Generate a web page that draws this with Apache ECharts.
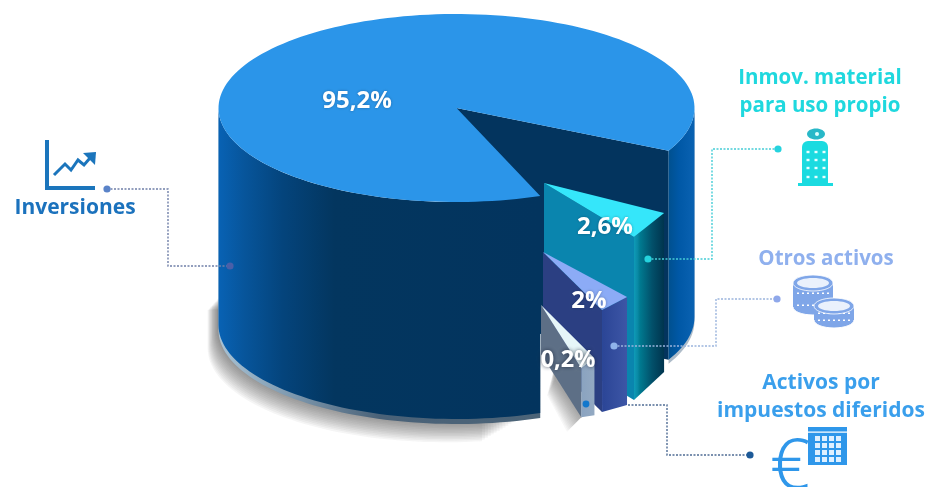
<!DOCTYPE html>
<html><head><meta charset="utf-8">
<style>html,body{margin:0;padding:0;background:#fff}#c{width:928px;height:487px}</style>
<script src="https://cdn.jsdelivr.net/npm/echarts@6/dist/echarts.min.js"></script>
</head><body><div id="c"></div>
<script>
// ---- data ----
var categories = ['Inversiones', 'Inmov. material para uso propio', 'Otros activos', 'Activos por impuestos diferidos'];
var values = [95.2, 2.6, 2, 0.2];
var valueLabels = ['95,2%', '2,6%', '2%', '0,2%'];
// the source infographic does not draw its slices to scale: parametric angles as drawn
var drawnStart = [69.4, 32.3, 53.6, 68.4];
var drawnSweep = [317.6, 24.3, 14.5, 7.5];

// ---- layout ----
var E = {a: 238, b: 94};
var cx = 456.5, cy = 108, H = 217;
var apex = [[cx, cy], [544, 183], [543, 252], [541, 305]];
var radii = [[1, 1], [0.597, 0.687], [0.595, 0.665], [0.61, 0.695]]; // radius at the right-hand / front corner of the wedge
var heights = [[H, H], [159, 163], [108, 102], [57, 49]];
var labelPos = [[357, 101], [605, 227], [589, 301], [568, 360]];
var topColor = ['#2b95e9', '#35e6fa', '#8cabf6', '#e6f6f8'];
var faceColor = ['#03345e', '#0a85ae', '#2b3f82', '#5d6f86'];
function hg(stops) {
  return {type: 'linear', x: 0, y: 0, x2: 1, y2: 0, colorStops: stops.map(function (s) { return {offset: s[0], color: s[1]}; })};
}
var wallColor = [
  hg([[0, '#0862b4'], [0.08, '#07559b'], [0.2, '#04447c'], [0.36, '#03365f'], [1, '#03345e']]),
  hg([[0, '#0e9bb8'], [0.12, '#0a8aa5'], [0.2, '#007a90'], [0.6, '#02506a'], [1, '#00344e']]),
  hg([[0, '#2b4596'], [1, '#3d56a6']]),
  hg([[0, '#8aa3c0'], [1, '#93a9c2']])
];

function pt(c, r, deg, dy) {
  var t = deg * Math.PI / 180;
  return [c[0] + E.a * r * Math.cos(t), c[1] + E.b * r * Math.sin(t) + (dy || 0)];
}
function arc(c, r, d0, d1, dy) {
  var out = [], n = Math.max(2, Math.ceil(Math.abs(d1 - d0) / 2));
  for (var i = 0; i <= n; i++) out.push(pt(c, r, d0 + (d1 - d0) * i / n, dy));
  return out;
}
function poly(points, fill, extra) {
  var style = {fill: fill};
  if (extra) for (var k in extra) style[k] = extra[k];
  return {type: 'polygon', shape: {points: points}, style: style};
}
function wallBand(c, r, d0, d1, h, fill, shift) {
  var top = arc(c, r, d0, d1, shift || 0);
  var bottom = arc(c, r, d1, d0, h + (shift || 0));
  return poly(top.concat(bottom), fill);
}

function renderSlice(params) {
  var i = params.dataIndex, c = apex[i], kids = [];
  var d0 = drawnStart[i], d1 = d0 + drawnSweep[i], k;
  if (i === 0) {
    var end = d1 - 360, rightH = H - 8;
    // soft floor shadow below the front wall: layered translucent outlines
    for (k = 15; k >= 0; k--) {
      var sc = [c[0] - k * 0.72, c[1] + k * 1.55];
      var tail = [[sc[0] - E.a, c[1] + 190 + k * 0.8], [sc[0] + 40, c[1] + 190]];
      kids.push(poly(arc(sc, 1, 73 + k * 0.55, 180, H).concat(tail), 'rgba(50,50,50,0.05)'));
    }
    // rim under the wall
    kids.push(wallBand(c, 1, d0, 180, H, hg([[0, '#a8c2d4'], [0.22, '#7f9ab0'], [0.5, '#4a6278'], [1, '#4c6478']]), 5));
    kids.push(wallBand(c, 1, 0, end, rightH, '#aebcc9', 4));
    // cut face inside the gap
    var ce = pt(c, 1, end);
    kids.push(poly([c, ce, [ce[0], ce[1] + rightH], [c[0], c[1] + rightH]], faceColor[0]));
    kids.push(wallBand(c, 1, d0, 180, H, wallColor[0]));
    kids.push(wallBand(c, 1, 0, end, rightH, hg([[0, '#00508f'], [0.4, '#0058a6'], [1, '#0a62b2']])));
    kids.push(poly([c].concat(arc(c, 1, d0, d1)), topColor[0]));
  } else {
    var rE = radii[i][0], rS = radii[i][1], hE = heights[i][0], hS = heights[i][1];
    var pE = pt(c, rE, d0), pS = pt(c, rS, d1);
    // pE = right-hand corner (lower angle), pS = front corner
    if (i === 3) {
      // soft shadow thrown into the notch left of the smallest wedge
      for (k = 13; k >= 0; k--) {
        kids.push(poly([
          [Math.max(541, c[0] + 14 - k * 0.6), c[1] + 76 + k * 1.1],
          [Math.max(541, pS[0] - k * 1.1), pS[1] + hS + k * 1.1],
          [pS[0], pS[1] + hS], [pS[0], pS[1]], [c[0] + 14, c[1] + 60]
        ], 'rgba(60,60,60,0.045)'));
      }
    }
    kids.push(poly([c, pS, [pS[0], pS[1] + hS], [c[0], c[1] + hS]], faceColor[i]));
    kids.push(poly([pS, pE, [pE[0], pE[1] + hE], [pS[0], pS[1] + hS]], wallColor[i]));
    kids.push(poly([c, pE, pS], topColor[i]));
  }
  kids.push({
    type: 'text', z2: 50,
    style: {
      text: valueLabels[i], x: labelPos[i][0], y: labelPos[i][1], align: 'center', verticalAlign: 'middle',
      fill: '#fff', font: 'bold ' + (i === 3 ? 23.5 : 24) + 'px "Open Sans"',
      textShadowColor: i === 3 ? 'rgba(20,30,50,0.75)' : 'rgba(0,20,50,0.35)', textShadowBlur: i === 3 ? 4 : 3
    }
  });
  return {type: 'group', children: kids};
}

// ---- callouts ----
var DOT = 3.6;
var leaders = [
  {dash: '#6f7fa8', pts: [[107, 189], [168, 189], [168, 266], [230, 266]], d: ['#4a5fa8', '#5a83c8']},
  {dash: '#45cdd6', pts: [[648, 259], [712, 259], [712, 149], [778, 149]], d: ['#25d3de', '#25d3de']},
  {dash: '#9ab4dd', pts: [[614, 346], [716, 346], [716, 299], [777, 299]], d: ['#8fa8ea', '#8fb3ea']},
  {dash: '#4f6c94', pts: [[628, 405], [667, 405], [667, 455], [750, 455]], d: null}
];
var g = [];
leaders.forEach(function (l) {
  g.push({type: 'polyline', z: 20, shape: {points: l.pts}, style: {stroke: l.dash, lineWidth: 1.4, lineDash: [2, 1.5], fill: null}});
  if (l.d) {
    g.push({type: 'circle', z: 21, shape: {cx: l.pts[0][0], cy: l.pts[0][1], r: DOT}, style: {fill: l.d[1]}});
    g.push({type: 'circle', z: 21, shape: {cx: l.pts[3][0], cy: l.pts[3][1], r: DOT}, style: {fill: l.d[0]}});
  }
});
g.push({type: 'circle', z: 21, shape: {cx: 586, cy: 404, r: 3.4}, style: {fill: '#1277cc'}});
g.push({type: 'circle', z: 21, shape: {cx: 750, cy: 455, r: 3.6}, style: {fill: '#1d5a98'}});

function label(lines, x, y, size, color, lh) {
  lines.forEach(function (t, k) {
    g.push({type: 'text', z: 22, style: {text: t, x: x, y: y + k * lh, align: 'center', verticalAlign: 'middle',
      fill: color, font: 'bold ' + size + 'px "Open Sans"'}});
  });
}
label(['Inversiones'], 75, 208, 21, '#1b72bd', 0);
label(['Inmov. material', 'para uso propio'], 820, 78, 20.5, '#1fd8de', 28);
label(['Otros activos'], 826, 259, 20.5, '#8fb0ee', 0);
label(['Activos por', 'impuestos diferidos'], 821, 383, 21, '#3a9fec', 28);

// icon: rising chart
var ink = '#1b75bc';
g.push({type: 'polyline', z: 22, shape: {points: [[47, 140], [47, 188], [95, 188]]}, style: {stroke: ink, lineWidth: 4, fill: null}});
g.push({type: 'polyline', z: 22, shape: {points: [[54, 175], [65, 164], [71, 170], [78, 160], [84, 165], [90, 158]]}, style: {stroke: ink, lineWidth: 3, fill: null}});
g.push({type: 'polygon', z: 22, shape: {points: [[83, 153], [96, 152], [95, 165]]}, style: {fill: ink}});

// icon: building
var teal = '#1bdbe0';
g.push({type: 'rect', z: 22, shape: {x: 802, y: 141, width: 26, height: 43, r: [6, 6, 0, 0]}, style: {fill: teal}});
g.push({type: 'rect', z: 22, shape: {x: 798, y: 183, width: 35, height: 3}, style: {fill: teal}});
g.push({type: 'ellipse', z: 22, shape: {cx: 816, cy: 134, rx: 9, ry: 5.5}, style: {fill: '#28b8c8'}});
g.push({type: 'circle', z: 22, shape: {cx: 817, cy: 134, r: 2}, style: {fill: '#dff'}});
[152, 160, 168, 177].forEach(function (y) {
  [808, 816, 824].forEach(function (x) {
    g.push({type: 'rect', z: 23, shape: {x: x - 1.5, y: y - 1.2, width: 3, height: 2.4}, style: {fill: '#e8ffff'}});
  });
});

// icon: coins
function coin(x, y, rx, ry, h, color, zb) {
  g.push({type: 'ellipse', z: zb, shape: {cx: x, cy: y + h, rx: rx, ry: ry}, style: {fill: color, stroke: '#fff', lineWidth: 1}});
  g.push({type: 'rect', z: zb, shape: {x: x - rx, y: y, width: 2 * rx, height: h}, style: {fill: color}});
  for (var s = 0; s < 2; s++) {
    g.push({type: 'line', z: zb + 1, shape: {x1: x - rx + 4, y1: y + h * (s + 0.6) / 2 + 3, x2: x + rx - 4, y2: y + h * (s + 0.6) / 2 + 3},
      style: {stroke: '#fff', lineWidth: 1.6, lineDash: [2, 3]}});
  }
  g.push({type: 'ellipse', z: zb + 2, shape: {cx: x, cy: y, rx: rx, ry: ry}, style: {fill: color, stroke: '#fff', lineWidth: 0.8}});
  g.push({type: 'ellipse', z: zb + 2, shape: {cx: x, cy: y, rx: rx - 4, ry: ry - 3}, style: {fill: '#eaf1fc'}});
}
var coinInk = '#7fa6e8';
coin(813, 283, 20, 8, 24, coinInk, 22);
coin(834, 306, 20, 8, 14, coinInk, 26);

// icon: calendar with euro
var blue = '#2f97ea';
g.push({type: 'rect', z: 22, shape: {x: 808, y: 427, width: 39, height: 38}, style: {fill: blue}});
g.push({type: 'rect', z: 23, shape: {x: 808, y: 431.5, width: 39, height: 1.2}, style: {fill: '#fff'}});
[436, 443, 450, 457].forEach(function (y) {
  [815, 822, 829, 836].forEach(function (x) {
    g.push({type: 'rect', z: 23, shape: {x: x, y: y, width: 5, height: 5}, style: {fill: '#dff0ff'}});
  });
});
g.push({type: 'text', z: 25, style: {text: '€', x: 790, y: 469, align: 'center', verticalAlign: 'middle', fill: blue, font: '300 70px "Noto Sans"'}});

var chart = echarts.init(document.getElementById('c'), null, {renderer: 'canvas'});
chart.setOption({
  animation: false,
  backgroundColor: '#ffffff',
  series: [{
    type: 'custom',
    coordinateSystem: 'none',
    renderItem: renderSlice,
    silent: true,
    data: categories.map(function (n, i) { return {name: n, value: [values[i]]}; })
  }],
  graphic: {elements: g}
});
</script></body></html>
